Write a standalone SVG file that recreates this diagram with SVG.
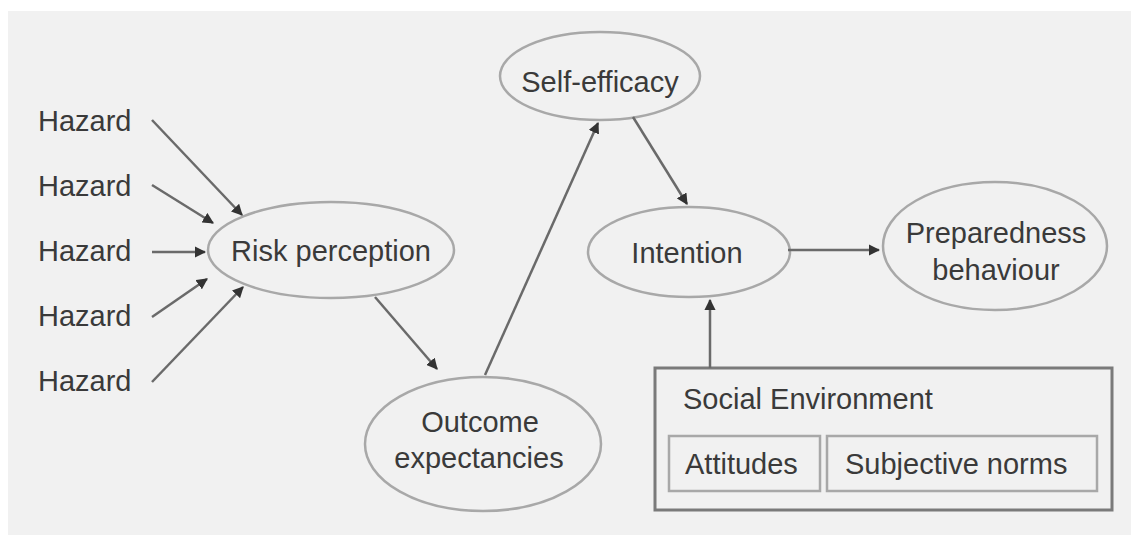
<svg xmlns="http://www.w3.org/2000/svg" width="1131" height="535" viewBox="0 0 1131 535">
<style>
text{font-family:"Liberation Sans",Arial,sans-serif;font-size:29px;fill:#3a3a3a}
.m{text-anchor:middle}
.node ellipse{fill:#f1f1f1;stroke:#a8a8a8;stroke-width:2.5}
.conn line{stroke:#6a6a6a;stroke-width:2.5;marker-end:url(#ah)}
.box{fill:none;stroke:#7a7a7a;stroke-width:3}
.ibox{fill:none;stroke:#a8a8a8;stroke-width:2.5}
</style>
<defs>
<marker id="ah" viewBox="0 0 10 10" refX="9" refY="5" markerWidth="4.5" markerHeight="4.5" orient="auto" markerUnits="strokeWidth">
<path d="M0,0 L10,5 L0,10 z" fill="#333"/>
</marker>
</defs>
<rect x="0" y="0" width="1131" height="535" fill="#ffffff"/>
<rect x="8" y="11" width="1123" height="524" fill="#f1f1f1"/>
<g id="hazard1"><text x="38" y="131">Hazard</text></g>
<g id="hazard2"><text x="38" y="196">Hazard</text></g>
<g id="hazard3"><text x="38" y="261">Hazard</text></g>
<g id="hazard4"><text x="38" y="326">Hazard</text></g>
<g id="hazard5"><text x="38" y="391">Hazard</text></g>
<g id="risk" class="node"><ellipse cx="331" cy="250" rx="123" ry="48"/><text x="331" y="261" class="m">Risk perception</text></g>
<g id="selfefficacy" class="node"><ellipse cx="600" cy="76" rx="100" ry="44"/><text x="600" y="92" class="m">Self-efficacy</text></g>
<g id="intention" class="node"><ellipse cx="689" cy="252" rx="101" ry="45"/><text x="687" y="263" class="m">Intention</text></g>
<g id="preparedness" class="node"><ellipse cx="995" cy="246" rx="112" ry="64"/><text x="996" y="243" class="m">Preparedness</text><text x="996" y="280" class="m">behaviour</text></g>
<g id="outcome" class="node"><ellipse cx="483" cy="444" rx="118" ry="67"/><text x="480" y="432" class="m">Outcome</text><text x="479" y="468" class="m">expectancies</text></g>
<g id="social">
<rect class="box" x="655" y="368" width="457" height="142"/>
<text x="683" y="409">Social Environment</text>
<g id="attitudes"><rect class="ibox" x="669" y="436" width="151" height="55"/><text x="685" y="474">Attitudes</text></g>
<g id="norms"><rect class="ibox" x="827" y="436" width="270" height="55"/><text x="845" y="474">Subjective norms</text></g>
</g>
<g id="connectors" class="conn">
<line x1="152" y1="120" x2="242" y2="215"/>
<line x1="152" y1="185" x2="213" y2="223"/>
<line x1="152" y1="252" x2="205" y2="252"/>
<line x1="152" y1="317" x2="207" y2="279"/>
<line x1="152" y1="382" x2="243" y2="287"/>
<line x1="375" y1="297" x2="437" y2="369"/>
<line x1="485" y1="375" x2="598" y2="123"/>
<line x1="633" y1="117" x2="687" y2="204"/>
<line x1="788" y1="250" x2="879" y2="250"/>
<line x1="710" y1="368" x2="710" y2="300"/>
</g>
</svg>
